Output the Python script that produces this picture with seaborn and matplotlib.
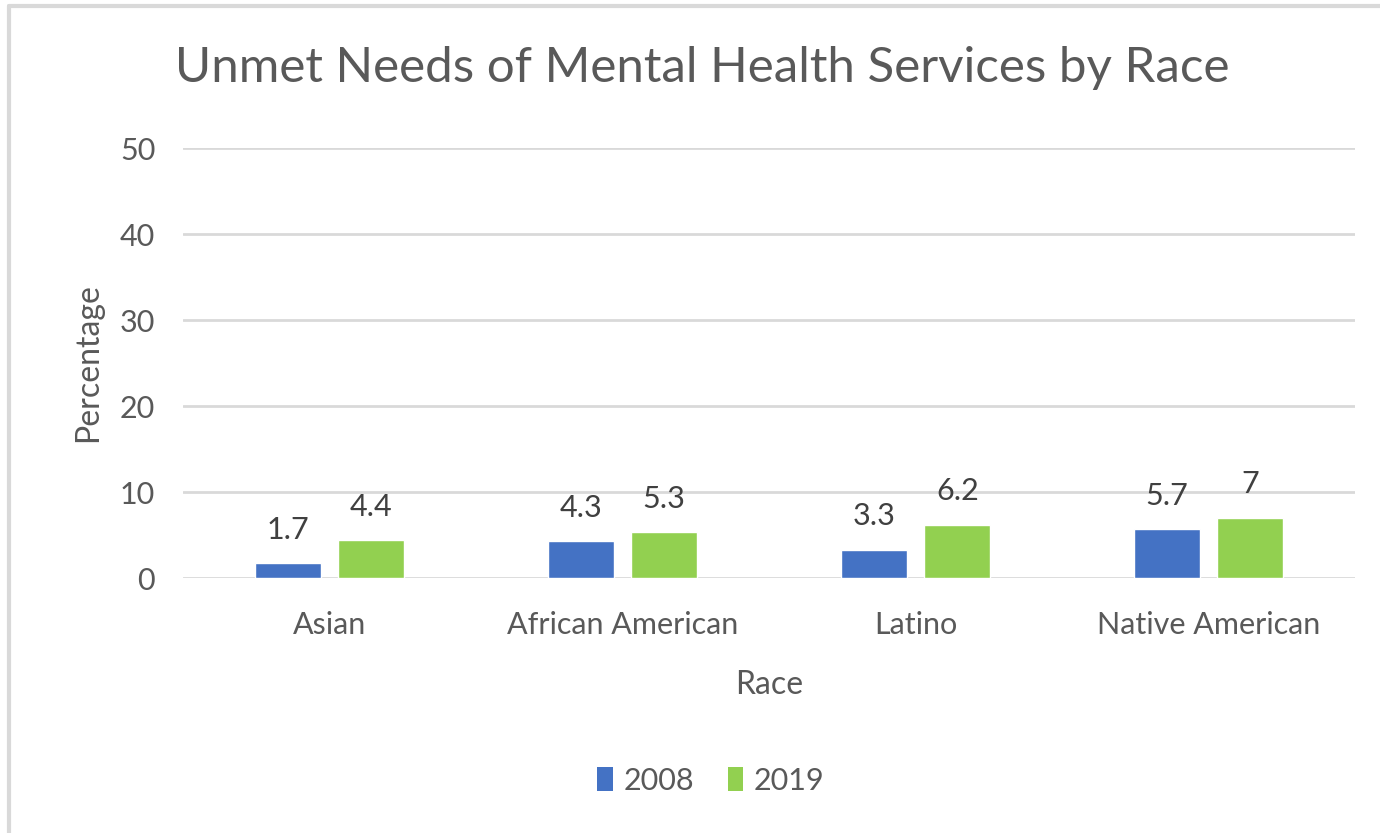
import matplotlib
matplotlib.use("Agg")
import matplotlib.pyplot as plt
from matplotlib.lines import Line2D
from matplotlib.patches import Patch
import seaborn as sns
import pandas as pd

races = ["Asian", "African American", "Latino", "Native American"]
years = ["2008", "2019"]
values_2008 = [1.7, 4.3, 3.3, 5.7]
values_2019 = [4.4, 5.3, 6.2, 7]
y_ticks = [0, 10, 20, 30, 40, 50]

colors = {"2008": "#4472C4", "2019": "#92D050"}
text_gray = "#595959"
grid_gray = "#D9D9D9"

df = pd.DataFrame({
    "Race": races * 2,
    "Year": [years[0]] * len(races) + [years[1]] * len(races),
    "Percentage": values_2008 + values_2019,
})

sns.set_theme(style="white")
plt.rcParams["font.family"] = ["Lato", "DejaVu Sans"]

fig = plt.figure(figsize=(13.8, 8.33), dpi=100)
ax = fig.add_axes([0.1326, 0.3061, 0.8493, 0.5162])

sns.barplot(data=df, x="Race", y="Percentage", hue="Year", order=races,
            hue_order=years, palette=colors, width=0.57, gap=0.21,
            saturation=1, errorbar=None, legend=False, ax=ax, zorder=3)

for container in ax.containers:
    ax.bar_label(container, fmt="%g", padding=14, fontsize=22, color="#404040")

ax.set_xlim(-0.5, len(races) - 0.5)
ax.set_ylim(0, 50)
ax.set_yticks(y_ticks)
ax.yaxis.grid(True, color=grid_gray, linewidth=2, zorder=0)
ax.set_axisbelow(True)
for s in ax.spines.values():
    s.set_visible(False)
ax.tick_params(axis="both", length=0, labelsize=22, labelcolor=text_gray)
ax.tick_params(axis="y", pad=20)
ax.tick_params(axis="x", pad=24)
ax.set_ylabel("Percentage", fontsize=23, color=text_gray, labelpad=12)
ax.set_xlabel("Race", fontsize=23, color=text_gray, labelpad=22)

fig.text(0.509, 0.918, "Unmet Needs of Mental Health Services by Race",
         ha="center", va="center", fontsize=35.5, color=text_gray)

handles = [Patch(facecolor=colors[y], edgecolor="none") for y in years]
fig.legend(handles, years, loc="center", bbox_to_anchor=(0.515, 0.063),
           ncol=2, frameon=False, fontsize=22, labelcolor=text_gray,
           handlelength=0.5, handleheight=0.8, handletextpad=0.35,
           columnspacing=1.1)

# chart-area frame (left and top edges)
fig.add_artist(Line2D([0.0066, 0.0066], [0.0, 0.9928], transform=fig.transFigure,
                      color=grid_gray, linewidth=3))
fig.add_artist(Line2D([0.0066, 1.0], [0.9928, 0.9928], transform=fig.transFigure,
                      color=grid_gray, linewidth=3))

fig.savefig("out.png", dpi=100, facecolor="white")
